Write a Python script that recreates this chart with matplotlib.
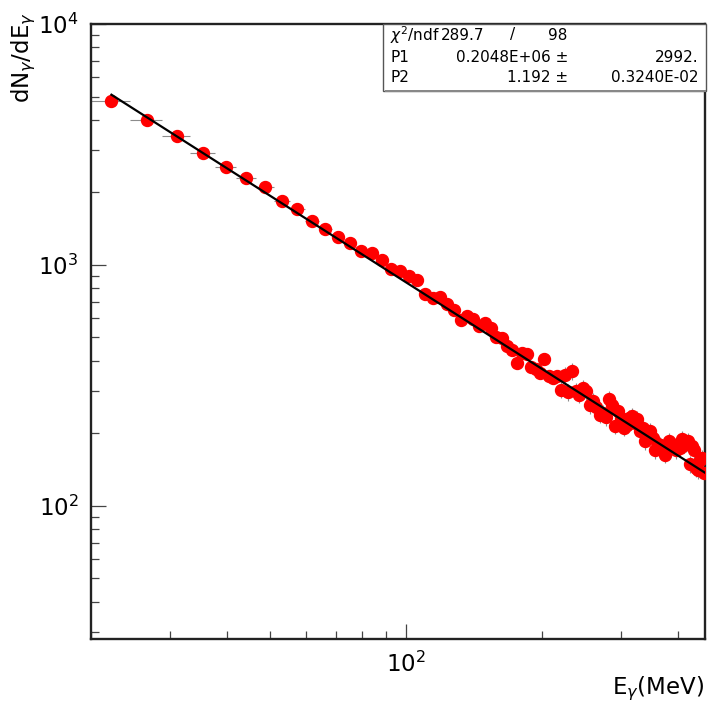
import numpy as np
import matplotlib
matplotlib.use("Agg")
import matplotlib.pyplot as plt
from matplotlib.patches import Rectangle

# histogram binning (100 bins, 98 ndf + 2 fit parameters)
E_LO = 20.0
E_HI = 460.0
N_BINS = 100

# dN/dE per bin
counts = [4780, 3990, 3440, 2910, 2560, 2300, 2100, 1850, 1710, 1520,
          1410, 1300, 1234, 1140, 1122, 1044, 962, 940, 896, 865,
          758, 730, 733, 689, 651, 593, 612, 599, 557, 574,
          548, 501, 498, 460, 445, 392, 431, 427, 376, 368,
          356, 407, 345, 340, 346, 303, 350, 297, 363, 300,
          289, 309, 300, 262, 273, 257, 239, 243, 234, 278,
          262, 215, 248, 232, 211, 217, 232, 236, 221, 230,
          205, 211, 186, 197, 205, 191, 171, 181, 179, 174,
          163, 177, 186, 174, 177, 171, 181, 174, 190, 179,
          181, 186, 149, 177, 171, 144, 141, 155, 158, 137]

# vertical errors (mostly hidden under the markers)
errors = [95, 80, 70, 60, 52, 47, 43, 38, 35, 32,
          42, 39, 37, 35, 34, 32, 30, 29, 28, 27,
          24, 23, 23, 22, 21, 19, 19, 19, 18, 18,
          27, 25, 25, 23, 22, 20, 22, 21, 19, 19,
          18, 20, 17, 17, 17, 24, 28, 24, 29, 24,
          23, 25, 24, 21, 22, 21, 19, 19, 19, 22,
          21, 17, 20, 19, 17, 17, 19, 19, 18, 18,
          16, 17, 15, 16, 16, 15, 14, 14, 14, 14,
          13, 14, 15, 14, 14, 14, 14, 14, 15, 14,
          14, 15, 12, 14, 14, 12, 12, 13, 13, 40]

# fit result  P1 * E^-P2
P1 = 0.2048e6
P2 = 1.192
stat_rows = [
    (r"$\chi^2$/ndf", "289.7", "/", "98"),
    ("P1", "0.2048E+06 \u00b1", "", "2992."),
    ("P2", "1.192 \u00b1", "", "0.3240E-02"),
]

edges = np.linspace(E_LO, E_HI, N_BINS + 1)
centers = 0.5 * (edges[:-1] + edges[1:])
half_w = 0.5 * (edges[1] - edges[0])

W, H = 708, 703
fig = plt.figure(figsize=(W / 100, H / 100), dpi=100)
ax = fig.add_axes([91 / W, 1 - 639 / H, (705 - 91) / W, (639 - 24) / H])

ax.errorbar(centers, counts, xerr=half_w, yerr=errors, fmt="none",
            ecolor="#8c8c8c", elinewidth=0.8, capsize=0, zorder=2)
ax.plot(centers, counts, "o", color="#ff0000", ms=8.6, mec="#ff0000", zorder=3)

e_fit = np.logspace(np.log10(centers[0]), np.log10(E_HI), 300)
ax.plot(e_fit, P1 * e_fit ** (-P2), color="black", lw=1.6, zorder=4)

ax.set_xscale("log")
ax.set_yscale("log")
ax.set_xlim(E_LO, E_HI)
ax.set_ylim(28, 1e4)

for s in ax.spines.values():
    s.set_linewidth(1.7)
    s.set_color("#222222")

ax.tick_params(which="both", direction="in", top=False, right=False,
               colors="#444444", labelcolor="black", width=0.9)
ax.tick_params(which="major", length=11, labelsize=16.5, pad=9)
ax.tick_params(which="minor", length=5.5)
ax.tick_params(axis="x", which="major", pad=9)
ax.xaxis.set_minor_formatter(matplotlib.ticker.NullFormatter())

fig.text(24 / W, 1 - 12 / H, r"dN$_{\gamma}$/dE$_{\gamma}$", rotation=90,
         ha="center", va="top", fontsize=16.5)
fig.text(704 / W, 1 - 689 / H, r"E$_{\gamma}$(MeV)", ha="right", va="center",
         fontsize=16.5)

# stats box
fig.patches.append(Rectangle((383 / W, 1 - 91 / H), (706 - 383) / W, (91 - 24) / H,
                             transform=fig.transFigure, facecolor="white",
                             edgecolor="#555555", lw=1.0, zorder=5))
fig.patches.append(Rectangle((385 / W, 1 - 92 / H), (706 - 385) / W, 1.5 / H,
                             transform=fig.transFigure, facecolor="#888888",
                             edgecolor="none", zorder=5))
fs = 11
row_y = [35, 57, 77]
for (name, mid, sep, val), ry in zip(stat_rows, row_y):
    yf = 1 - ry / H
    fig.text(390 / W, yf, name, ha="left", va="center", fontsize=fs, zorder=6)
    if sep:
        fig.text(441 / W, yf, mid, ha="left", va="center", fontsize=fs, zorder=6)
        fig.text(513 / W, yf, sep, ha="center", va="center", fontsize=fs, zorder=6)
        fig.text(567 / W, yf, val, ha="right", va="center", fontsize=fs, zorder=6)
    else:
        fig.text(568 / W, yf, mid, ha="right", va="center", fontsize=fs, zorder=6)
        fig.text(698 / W, yf, val, ha="right", va="center", fontsize=fs, zorder=6)

fig.savefig("out.png", dpi=100)
